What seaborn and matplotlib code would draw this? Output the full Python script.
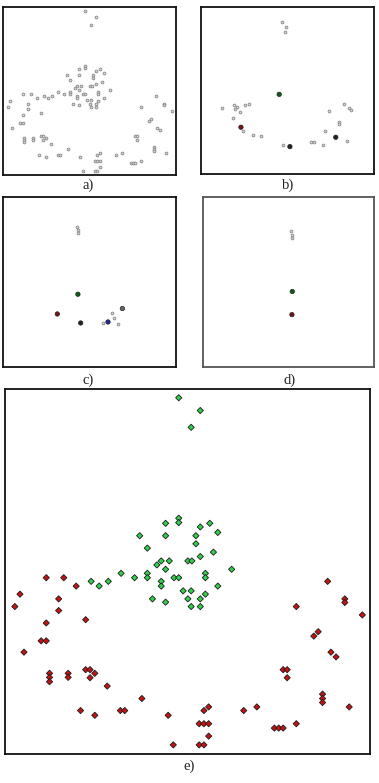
import matplotlib
matplotlib.use("Agg")
import matplotlib.pyplot as plt
import seaborn as sns
import pandas as pd

# ---- panel e data (also panel a, same point set) ----
green_x = [47.6, 53.5, 51.0, 47.6, 47.6, 44.0, 56.1, 53.5, 58.3, 36.9, 44.0, 52.3, 52.3, 39.0, 57.1,
           53.5, 42.8, 45.0, 50.1, 51.2, 41.6, 62.1, 44.0, 31.8, 39.0, 39.0, 54.9, 54.9, 35.5, 46.3,
           47.6, 23.6, 28.3, 25.8, 42.8, 42.8, 58.3, 48.8, 51.0, 54.9, 40.4, 50.1, 53.5, 44.0, 51.0, 53.5]
green_y = [97.6, 94.1, 89.5, 64.6, 63.4, 63.2, 63.2, 62.2, 60.7, 59.8, 59.8, 59.8, 57.6, 56.4, 55.3,
           54.1, 52.9, 52.9, 52.9, 52.9, 51.8, 50.6, 50.6, 49.5, 49.5, 48.3, 49.5, 48.3, 48.3, 48.3,
           48.3, 47.3, 47.3, 46.0, 47.3, 46.0, 46.0, 44.7, 44.7, 43.8, 42.5, 42.5, 42.5, 41.6, 40.4, 40.4]
red_x = [11.3, 16.1, 19.5, 4.1, 2.7, 14.7, 14.7, 11.3, 22.1, 9.9, 11.3, 5.2, 12.2, 12.2, 12.2,
         17.3, 17.3, 22.1, 23.3, 24.6, 23.3, 28.0, 37.5, 20.7, 24.6, 31.6, 32.8, 44.7, 54.5, 55.8,
         53.2, 54.5, 55.8, 55.8, 46.1, 53.2, 54.5, 65.4, 69.0, 73.8, 75.0, 76.2, 79.8, 76.2, 77.3,
         77.3, 87.0, 87.0, 87.0, 94.3, 79.8, 84.6, 85.8, 89.3, 90.7, 88.4, 93.1, 93.1, 97.9]
red_y = [48.3, 48.3, 46.0, 43.8, 40.4, 42.5, 39.3, 35.9, 36.8, 31.0, 31.0, 27.9, 22.1, 21.0, 19.8,
         22.1, 21.0, 23.1, 23.1, 22.1, 20.9, 18.6, 15.2, 11.9, 10.6, 11.9, 11.9, 10.6, 11.9, 12.9,
         8.3, 8.3, 8.3, 4.9, 2.5, 2.5, 2.5, 11.9, 12.9, 7.1, 7.1, 7.1, 8.3, 23.1, 23.1,
         20.9, 16.4, 15.2, 14.1, 12.9, 40.4, 32.3, 33.5, 27.9, 26.6, 47.3, 42.5, 41.5, 38.1]

# ---- panel b data ----
b_grey_x = [46.6, 49.1, 48.4, 12.3, 19.3, 20.6, 19.7, 22.4, 25.3, 27.9, 18.5, 24.5, 29.9, 34.7,
            47.4, 63.6, 65.1, 70.7, 71.7, 79.6, 80.0, 74.2, 82.5, 85.7, 86.9, 84.3]
b_grey_y = [91.2, 88.2, 84.8, 39.3, 41.3, 40.3, 38.7, 37.3, 41.3, 41.9, 33.4, 25.9, 23.5, 22.8,
            17.4, 19.2, 19.2, 17.5, 25.6, 31.3, 29.9, 37.9, 41.9, 39.3, 38.3, 19.8]
b_hi_x = [45.2, 23.1, 51.4, 77.9]
b_hi_y = [47.7, 28.0, 16.4, 22.0]
b_hi_c = ["green", "red", "black", "black"]

# ---- panel c data ----
c_grey_x = [42.8, 43.5, 43.5, 57.8, 62.8, 64.0, 66.3]
c_grey_y = [82.4, 80.4, 78.8, 25.9, 31.8, 29.1, 25.3]
c_hi_x = [43.3, 31.4, 44.9, 60.7, 69.0]
c_hi_y = [42.8, 31.2, 25.9, 26.5, 34.4]
c_hi_c = ["green", "red", "black", "blue", "grey"]

# ---- panel d data ----
d_grey_x = [51.3, 51.8, 52.2]
d_grey_y = [79.8, 77.5, 76.1]
d_hi_x = [52.2, 52.0]
d_hi_y = [44.4, 30.8]
d_hi_c = ["green", "red"]

labels = ["a)", "b)", "c)", "d)", "e)"]

sns.set_theme(style="white")
plt.rcParams["font.family"] = ["Liberation Serif", "DejaVu Serif"]

W, H = 379, 783
fig = plt.figure(figsize=(W / 100, H / 100), dpi=100)


def make_ax(l, t, w, h):
    ax = fig.add_axes([l / W, 1 - (t + h) / H, w / W, h / H])
    ax.set_xlim(0, 100)
    ax.set_ylim(0, 100)
    ax.set_xticks([])
    ax.set_yticks([])
    for s in ax.spines.values():
        s.set_visible(True)
        s.set_color("#111111")
        s.set_linewidth(1.3)
    return ax


ax_a = make_ax(3, 7, 173, 168)
ax_b = make_ax(201, 7, 173, 167)
ax_c = make_ax(3, 197, 173, 170)
ax_d = make_ax(203, 197, 171, 170)
ax_e = make_ax(5, 389, 365, 365)
for s in ax_d.spines.values():
    s.set_color("#555555")

grey_face = "#d6d6d6"
grey_edge = "#888888"

# panel a: all points in grey
all_df = pd.DataFrame({"x": green_x + red_x, "y": green_y + red_y})
sns.scatterplot(data=all_df, x="x", y="y", ax=ax_a, marker="o", s=4,
                color=grey_face, edgecolor=grey_edge, linewidth=0.6, legend=False)

hi_col = {"green": "#0b5e16", "red": "#7d1010", "black": "#222222",
          "blue": "#1c2a9a", "grey": "#666666"}


def panel(ax, gx, gy, hx, hy, hc):
    gdf = pd.DataFrame({"x": gx, "y": gy})
    sns.scatterplot(data=gdf, x="x", y="y", ax=ax, marker="o", s=4,
                    color=grey_face, edgecolor=grey_edge, linewidth=0.6, legend=False)
    hdf = pd.DataFrame({"x": hx, "y": hy, "c": hc})
    sns.scatterplot(data=hdf, x="x", y="y", hue="c", palette=hi_col, ax=ax,
                    marker="o", s=10, edgecolor="#222222", linewidth=0.5, legend=False)


panel(ax_b, b_grey_x, b_grey_y, b_hi_x, b_hi_y, b_hi_c)
panel(ax_c, c_grey_x, c_grey_y, c_hi_x, c_hi_y, c_hi_c)
panel(ax_d, d_grey_x, d_grey_y, d_hi_x, d_hi_y, d_hi_c)

# panel e
e_df = pd.DataFrame({"x": green_x + red_x, "y": green_y + red_y,
                     "cl": ["g"] * len(green_x) + ["r"] * len(red_x)})
sns.scatterplot(data=e_df, x="x", y="y", hue="cl", palette={"g": "#2fd24a", "r": "#c81212"},
                ax=ax_e, marker="D", s=10, edgecolor="#1a1a1a", linewidth=0.6, legend=False)

for ax in (ax_a, ax_b, ax_c, ax_d, ax_e):
    ax.set_xlabel("")
    ax.set_ylabel("")

for lab, (x, y) in zip(labels, [(88, 185), (288, 185), (88, 380), (290, 380), (189, 766)]):
    fig.text(x / W, 1 - y / H, lab, ha="center", va="center", fontsize=10.5, color="#222222")

fig.savefig("out.png", dpi=100)
